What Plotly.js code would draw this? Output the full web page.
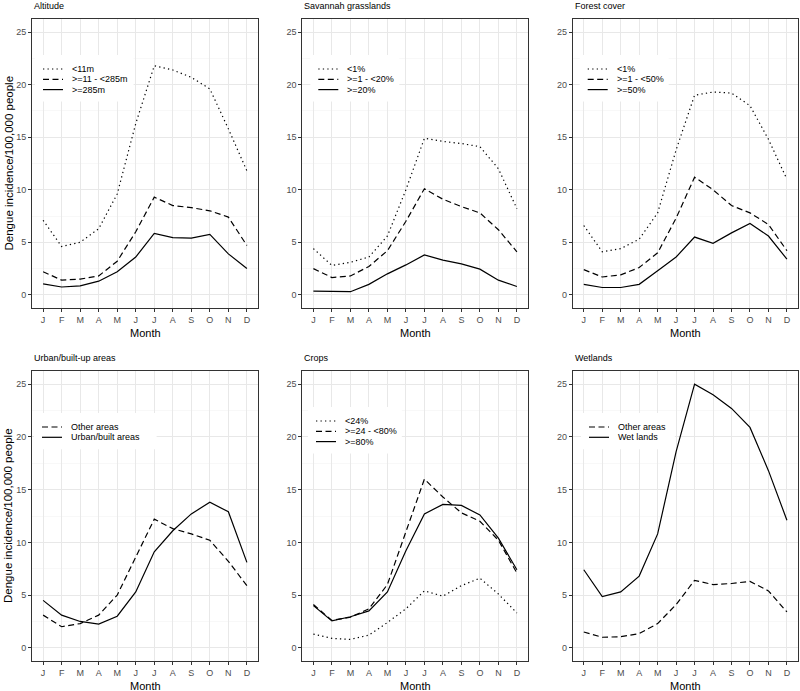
<!DOCTYPE html>
<html>
<head>
<meta charset="utf-8">
<script src="https://cdn.plot.ly/plotly-3.0.1.min.js"></script>
<style>html,body{margin:0;padding:0;background:#fff;}#chart{width:800px;height:691px;}</style>
</head>
<body>
<div id="chart"></div>
<script>
// ---- data ----
const monthIndex = [1,2,3,4,5,6,7,8,9,10,11,12];
const monthLabels = ['J','F','M','A','M','J','J','A','S','O','N','D'];
const yTickVals = [0,5,10,15,20,25];

const panelTitles = ['Altitude','Savannah grasslands','Forest cover','Urban/built-up areas','Crops','Wetlands'];

const altitudeNames = ['<11m','>=11 - <285m','>=285m'];
const altitudeLow  = [7.1,4.6,5.0,6.3,9.6,16.3,21.8,21.4,20.7,19.6,15.8,11.8];
const altitudeMid  = [2.2,1.4,1.5,1.8,3.2,6.0,9.3,8.5,8.3,8.0,7.4,4.7];
const altitudeHigh = [1.05,0.75,0.85,1.3,2.2,3.6,5.85,5.45,5.4,5.75,3.9,2.5];

const savannahNames = ['<1%','>=1 - <20%','>=20%'];
const savannahLow  = [4.4,2.8,3.1,3.6,5.6,10.0,14.9,14.6,14.4,14.1,12.0,8.2];
const savannahMid  = [2.5,1.65,1.8,2.7,4.2,7.0,10.1,9.1,8.4,7.8,6.2,4.1];
const savannahHigh = [0.35,0.3,0.3,1.0,2.0,2.85,3.8,3.3,2.95,2.45,1.4,0.8];

const forestNames = ['<1%','>=1 - <50%','>=50%'];
const forestLow  = [6.6,4.1,4.4,5.3,7.8,13.8,19.0,19.3,19.2,18.0,14.8,11.0];
const forestMid  = [2.4,1.7,1.9,2.6,4.0,7.3,11.2,10.0,8.5,7.8,6.7,4.2];
const forestHigh = [1.0,0.7,0.7,1.0,2.3,3.6,5.5,4.9,5.9,6.8,5.6,3.4];

const urbanNames = ['Other areas','Urban/built areas'];
const urbanOther = [3.1,2.0,2.3,3.1,5.0,8.6,12.2,11.3,10.8,10.2,8.2,5.9];
const urbanBuilt = [4.5,3.1,2.5,2.25,3.0,5.3,9.1,11.1,12.7,13.8,12.9,8.1];

const cropsNames = ['<24%','>=24 - <80%','>=80%'];
const cropsLow  = [1.3,0.9,0.8,1.2,2.4,3.7,5.4,4.9,5.9,6.6,5.1,3.3];
const cropsMid  = [4.1,2.6,2.9,3.7,6.0,11.0,16.0,14.3,12.8,12.0,10.2,7.1];
const cropsHigh = [4.0,2.55,2.95,3.5,5.3,9.2,12.7,13.6,13.5,12.6,10.4,7.4];

const wetlandNames = ['Other areas','Wet lands'];
const wetlandOther = [1.5,1.0,1.05,1.35,2.3,4.1,6.4,6.0,6.1,6.3,5.4,3.4];
const wetlandWet   = [7.4,4.85,5.3,6.8,10.8,18.6,25.0,24.0,22.7,20.9,16.8,12.1];

// ---- styling ----
const W = 800, H = 691;
const FONT = 'Liberation Sans, Arial, sans-serif';
const DOT = '1.3px,3.2px', DASH = '6px,3.5px', SOLID = 'solid';

const panels = [
  {names: altitudeNames, series: [altitudeLow, altitudeMid, altitudeHigh], dashes: [DOT, DASH, SOLID]},
  {names: savannahNames, series: [savannahLow, savannahMid, savannahHigh], dashes: [DOT, DASH, SOLID]},
  {names: forestNames, series: [forestLow, forestMid, forestHigh], dashes: [DOT, DASH, SOLID]},
  {names: urbanNames, series: [urbanOther, urbanBuilt], dashes: [DASH, SOLID]},
  {names: cropsNames, series: [cropsLow, cropsMid, cropsHigh], dashes: [DOT, DASH, SOLID]},
  {names: wetlandNames, series: [wetlandOther, wetlandWet], dashes: [DASH, SOLID]}
];

// pixel boxes of plot areas
const cols = [[32, 258], [302.3, 528], [572.7, 798]];
const rows = [[19, 308], [371, 661]];
// legend key offsets (relative to plot left) and row start (relative to plot top)
const legendKeyStart = [11, 16, 15, 10, 13.7, 16.3];
const legendTextGap = 27;
const legendRow1 = [50, 50, 50, 56, 50, 56];
const legendRowGap = 10.3;

const traces = [];
const layout = {
  width: W, height: H,
  margin: {l: 0, r: 0, t: 0, b: 0},
  paper_bgcolor: '#ffffff', plot_bgcolor: '#ffffff',
  showlegend: false,
  font: {family: FONT, size: 9, color: '#4d4d4d'},
  shapes: [], annotations: []
};

panels.forEach((p, i) => {
  const c = cols[i % 3], r = rows[Math.floor(i / 3)];
  const ax = i === 0 ? '' : String(i + 1);
  const xName = 'xaxis' + ax, yName = 'yaxis' + ax;
  const xRef = 'x' + ax, yRef = 'y' + ax;
  layout[xName] = {
    domain: [c[0] / W, c[1] / W], anchor: yRef,
    range: [0.4, 12.6], tickvals: monthIndex, ticktext: monthLabels,
    showgrid: true, gridcolor: '#e8e8e8', gridwidth: 1,
    zeroline: false, showline: true, mirror: true, linecolor: '#333333', linewidth: 1,
    ticks: 'outside', ticklen: 3, tickcolor: '#333333', tickwidth: 1,
    tickfont: {family: FONT, size: 9, color: '#4d4d4d'}, fixedrange: true
  };
  layout[yName] = {
    domain: [1 - r[1] / H, 1 - r[0] / H], anchor: xRef,
    range: [-1.25, 26.25], tickvals: yTickVals,
    showgrid: true, gridcolor: '#e8e8e8', gridwidth: 1,
    minor: {dtick: 2.5, tick0: 0, showgrid: true, gridcolor: '#f3f3f3', gridwidth: 0.6, ticks: ''},
    zeroline: false, showline: true, mirror: true, linecolor: '#333333', linewidth: 1,
    ticks: 'outside', ticklen: 3, tickcolor: '#333333', tickwidth: 1,
    tickfont: {family: FONT, size: 9, color: '#4d4d4d'}, fixedrange: true
  };

  p.series.forEach((vals, k) => {
    traces.push({
      type: 'scatter', mode: 'lines', x: monthIndex, y: vals, name: p.names[k],
      xaxis: xRef, yaxis: yRef, showlegend: false, hoverinfo: 'skip',
      line: {color: '#000000', width: 1.2, dash: p.dashes[k]}
    });
  });

  // panel title
  layout.annotations.push({
    text: panelTitles[i], xref: 'paper', yref: 'paper',
    x: c[0] / W, y: 1 - (r[0] - 13) / H, xanchor: 'left', yanchor: 'middle',
    showarrow: false, font: {family: FONT, size: 9, color: '#000000'}
  });
  // x axis title
  layout.annotations.push({
    text: 'Month', xref: 'paper', yref: 'paper',
    x: (c[0] + c[1]) / 2 / W, y: 1 - (r[1] + 25) / H, xanchor: 'center', yanchor: 'middle',
    showarrow: false, font: {family: FONT, size: 11, color: '#000000'}
  });
  // y axis title on left column
  if (i % 3 === 0) {
    layout.annotations.push({
      text: 'Dengue incidence/100,000 people', xref: 'paper', yref: 'paper',
      x: 8 / W, y: 1 - (r[0] + r[1]) / 2 / H, xanchor: 'center', yanchor: 'middle',
      textangle: -90, showarrow: false, font: {family: FONT, size: 11.5, color: '#000000'}
    });
  }

  // legend (drawn inside the panel), positioned in paper pixels
  const keyL = c[0] + legendKeyStart[i], keyR = keyL + 20, textX = keyL + legendTextGap;
  const maxLen = Math.max(...p.names.map(s => s.length));
  const boxL = keyL - 8, boxR = textX + maxLen * 4.8 + 6;
  const rowY = p.names.map((_, k) => r[0] + legendRow1[i] + k * legendRowGap);
  const boxT = rowY[0] - 14, boxB = rowY[rowY.length - 1] + 12;
  const px = v => v / W, py = v => 1 - v / H;
  layout.shapes.push({
    type: 'rect', xref: 'paper', yref: 'paper', layer: 'above',
    x0: px(boxL), x1: px(boxR), y0: py(boxB), y1: py(boxT),
    fillcolor: '#ffffff', line: {width: 0}
  });
  p.names.forEach((nm, k) => {
    layout.shapes.push({
      type: 'line', xref: 'paper', yref: 'paper', layer: 'above',
      x0: px(keyL), x1: px(keyR), y0: py(rowY[k]), y1: py(rowY[k]),
      line: {color: '#000000', width: 1.2, dash: p.dashes[k]}
    });
    layout.annotations.push({
      text: nm.replace(/</g, '&lt;'), xref: 'paper', yref: 'paper',
      x: px(textX), y: py(rowY[k]), xanchor: 'left', yanchor: 'middle',
      showarrow: false, font: {family: FONT, size: 9, color: '#000000'}
    });
  });
});

Plotly.newPlot('chart', traces, layout, {staticPlot: true, displayModeBar: false});
</script>
</body>
</html>
